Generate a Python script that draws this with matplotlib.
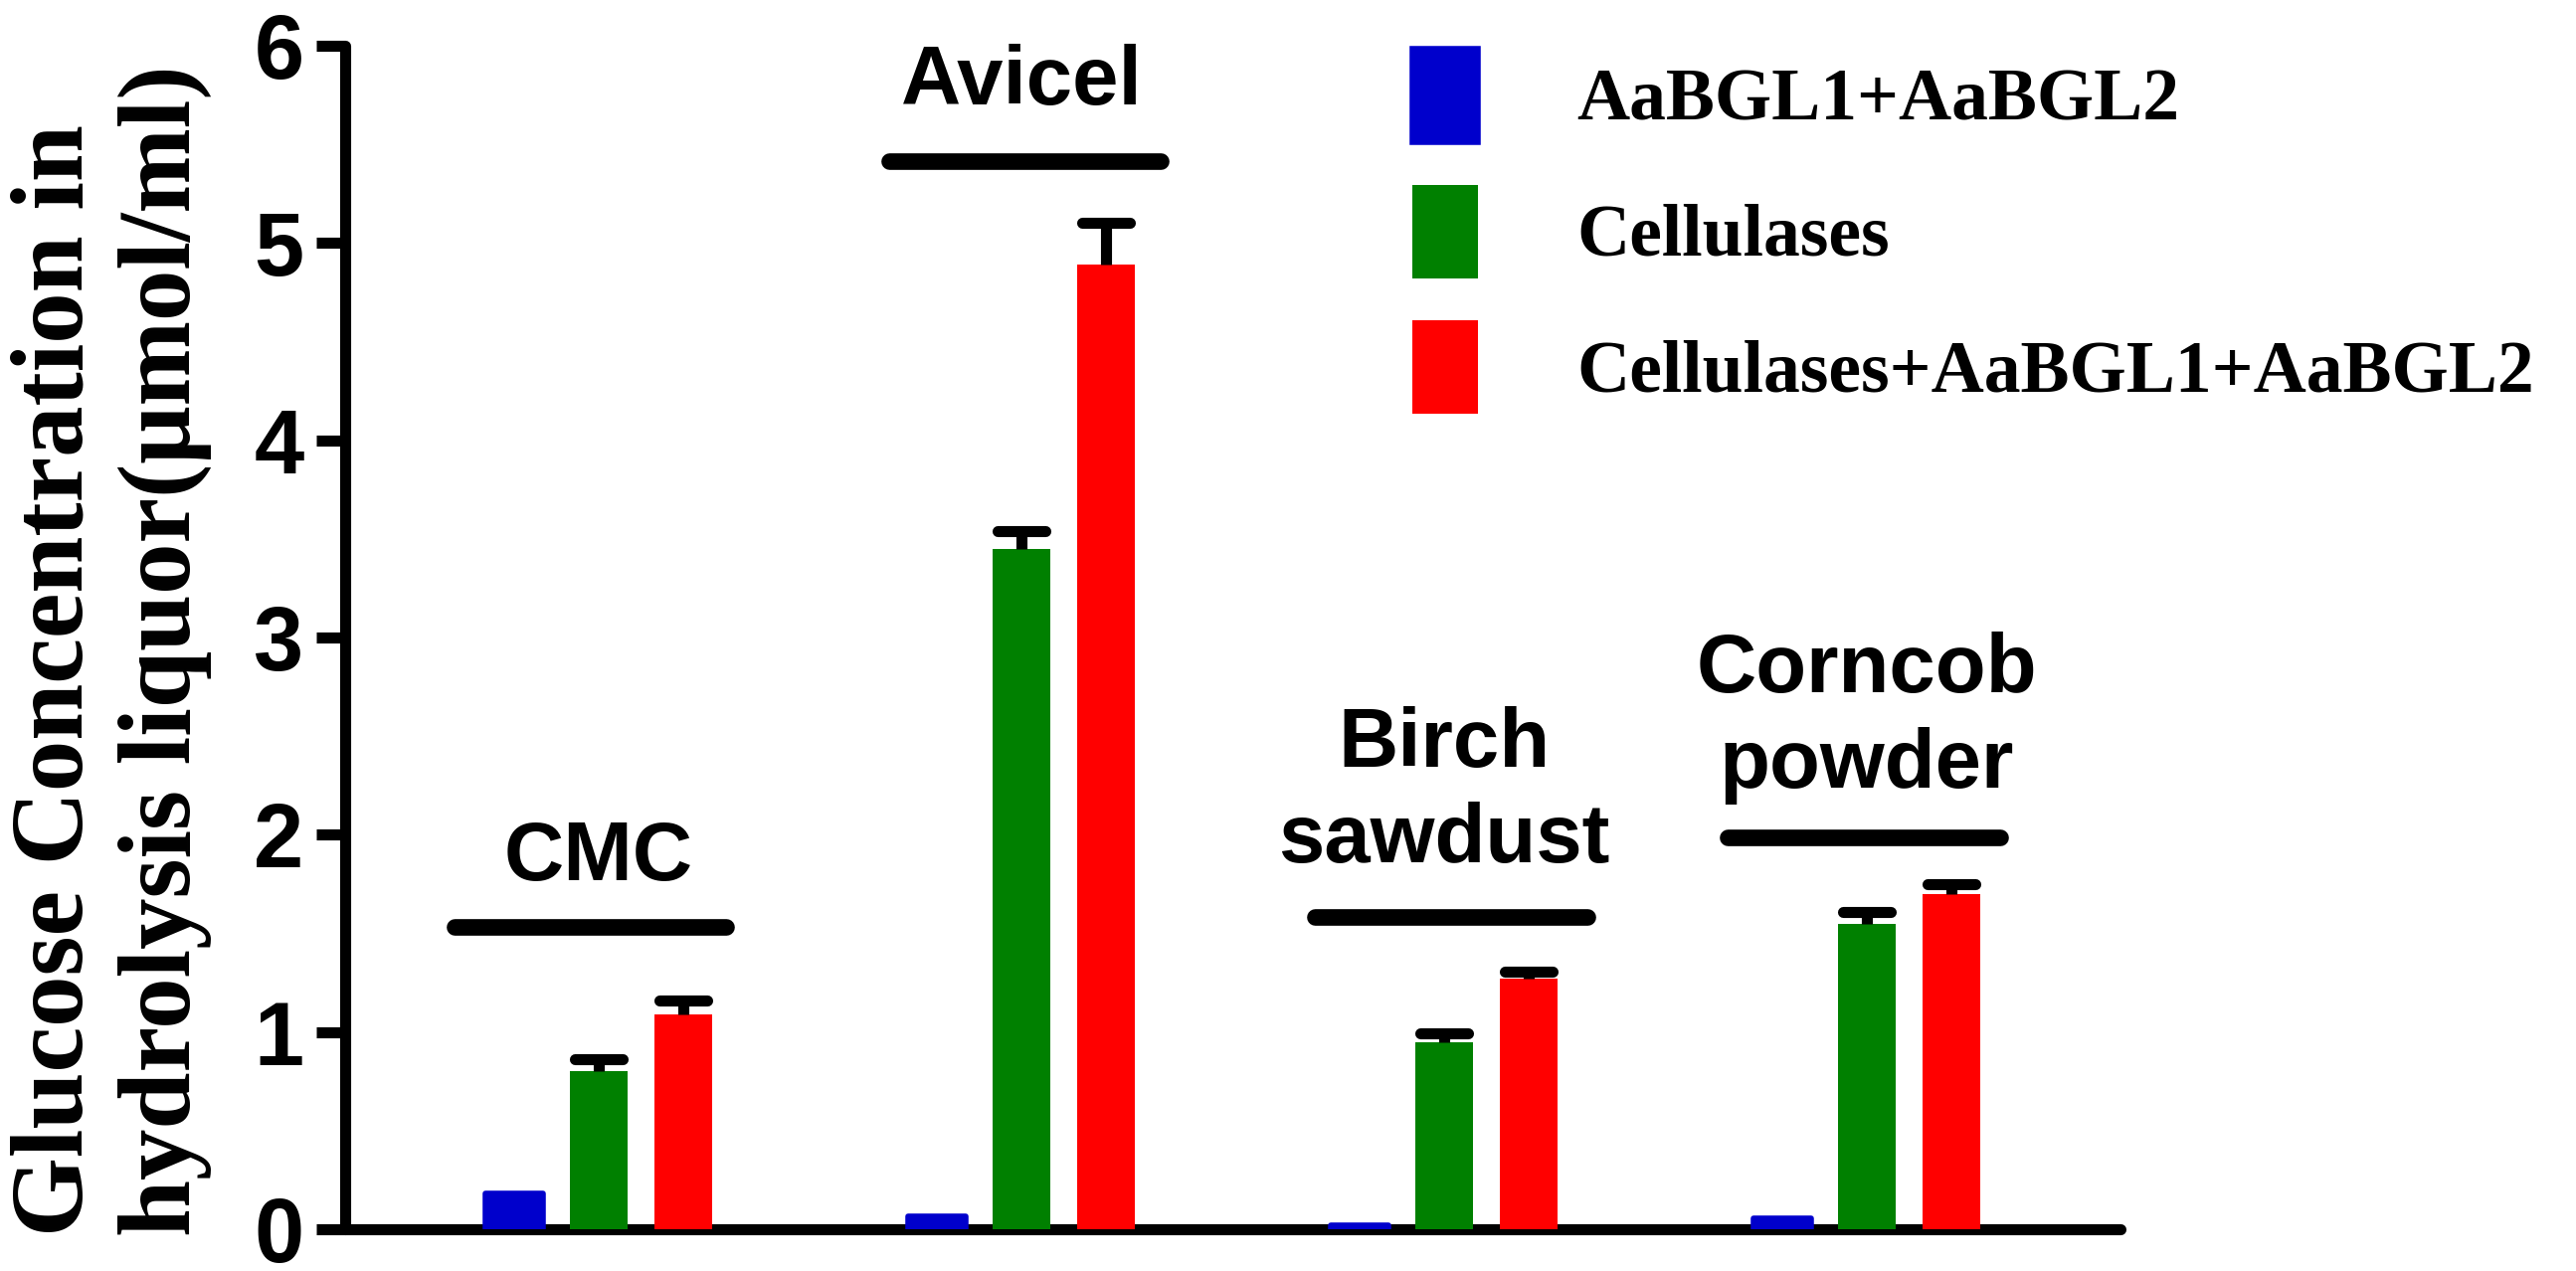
import matplotlib
matplotlib.use('Agg')
import matplotlib.pyplot as plt
import numpy as np

# ---------------- data ----------------
substrates = ["CMC", "Avicel", "Birch\nsawdust", "Corncob\npowder"]
series_names = ["AaBGL1+AaBGL2", "Cellulases", "Cellulases+AaBGL1+AaBGL2"]
aabgl = [0.18, 0.065, 0.02, 0.055]
cellulases = [0.80, 3.45, 0.95, 1.55]
cellulases_err = [0.06, 0.09, 0.045, 0.06]
combined = [1.09, 4.89, 1.27, 1.70]
combined_err = [0.07, 0.21, 0.035, 0.05]
yticks = [0, 1, 2, 3, 4, 5, 6]
ylabel = "Glucose Concentration in\nhydrolysis liquor(\u03bcmol/ml)"

# ---------------- layout ----------------
bracket_y = [1.535, 5.415, 1.585, 1.985]
bracket_dx = [-0.02, 0.008, 0.016, -0.007]
label_bottom = [1.684, 5.615, 1.773, 2.151]
colors = ['#0000CC', '#008000', '#FF0000']
SANS = 'Liberation Sans'
SERIF = 'Liberation Serif'

fig = plt.figure(figsize=(25.9, 12.78), dpi=100)
ax = fig.add_axes([0.134, 0.0329, 0.6892, 0.9311])

x = np.arange(len(substrates))
w = 0.137
off = 0.2

b1 = ax.bar(x - off, aabgl, w, color=colors[0], edgecolor=colors[0], linewidth=4,
            joinstyle='round', zorder=3)
b2 = ax.bar(x, cellulases, w, color=colors[1], linewidth=0, zorder=3)
b3 = ax.bar(x + off, combined, w, color=colors[2], linewidth=0, zorder=3)

for xs, vals, errs in [(x, cellulases, cellulases_err), (x + off, combined, combined_err)]:
    vals = np.asarray(vals)
    tops = vals + np.asarray(errs)
    ax.vlines(xs, vals, tops, color='k', lw=8, zorder=4)
    ax.hlines(tops, xs - w / 2 + 0.013, xs + w / 2 - 0.013, color='k', lw=8,
              capstyle='round', zorder=4)

for xi, dx, yb, lb, s in zip(x, bracket_dx, bracket_y, label_bottom, substrates):
    ax.plot([xi + dx - 0.322, xi + dx + 0.322], [yb, yb], color='k', lw=12,
            solid_capstyle='round', zorder=4, clip_on=False)
    ax.text(xi, lb, s, ha='center', va='bottom', multialignment='center',
            fontsize=60, fontweight='bold', family=SANS, linespacing=1.3)

ax.set_xlim(-0.6, 3.6)
ax.set_ylim(0, 6)
for side in ['top', 'right']:
    ax.spines[side].set_visible(False)
for side in ['left', 'bottom']:
    ax.spines[side].set_linewidth(8)
    ax.spines[side].set_capstyle('round')
    ax.spines[side].set_zorder(2)

ax.set_xticks([])
ax.set_yticks(yticks, labels=[str(t) for t in yticks], fontsize=65,
              fontweight='bold', family=SANS)
ax.tick_params(axis='y', length=21, width=8, pad=9, direction='out')

ax.set_ylabel(ylabel, fontsize=74, fontweight='bold', family=SERIF, linespacing=1.2,
              multialignment='left')
ax.yaxis.set_label_coords(-0.075, 0.489)

ax.legend(handles=[b1, b2, b3], labels=series_names, loc='upper left',
          bbox_to_anchor=(1420 / 2590, 1 - 49 / 1278), bbox_transform=fig.transFigure,
          frameon=False, prop={'family': SERIF, 'weight': 'bold', 'size': 53},
          handlelength=0.897, handleheight=1.588, handletextpad=1.345,
          labelspacing=0.58, borderpad=0, borderaxespad=0)

fig.savefig('out.png', dpi=100)
